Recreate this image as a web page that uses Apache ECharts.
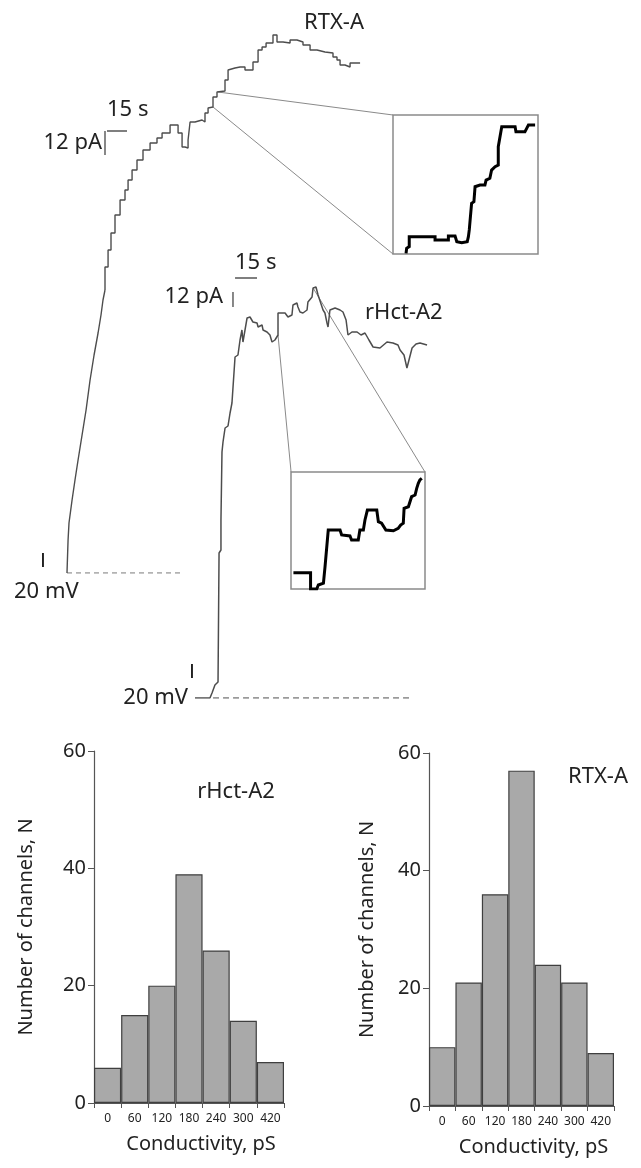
<!DOCTYPE html>
<html>
<head>
<meta charset="utf-8">
<script src="https://cdn.jsdelivr.net/npm/echarts@6.0.0/dist/echarts.min.js"></script>
<style>
  html, body { margin: 0; padding: 0; background: #ffffff; }
  #fig { width: 641px; height: 1168px; }
</style>
</head>
<body>
<div id="fig"></div>
<script>
// ---- Current traces: [time, s ; current, pA] ----
const rtxTrace = [
  [0,0],[0.8,16.5],[1.5,25],[3.8,36.5],[6,46.5],[8.3,56.5],[11.3,69],[14.3,81.5],
  [17.3,96.5],[20.3,109],[23.3,120],[25.5,129],[27,136.5],[28.5,141.5],[30.8,153],
  [33,161.5],[36,170],[39.8,179],[43.5,186.5],[45.8,191.5],[48.8,196.5],[52.5,201.5],
  [57,206.5],[62.3,211.5],[67.5,215],[71.3,217.5],[77.3,220],[78.8,224],[83.3,224],
  [86.3,220],[88.5,213],[90.8,212.5],[92.3,216.5],[96,225.5],[101.3,226.5],[103.5,225.5],
  [105.8,230],[107.3,232.5],[109.5,233],[112.5,238],[113.3,240.5],[118.5,241],
  [120.8,246.5],[122.3,251.5],[126,252.5],[129.8,253],[133.5,253],[139.5,251.5],
  [143.3,255.5],[146.3,261.5],[149.3,263],[154.5,265],[157.5,269],[162,265.5],
  [167.3,265],[172.5,266.5],[177,265.5],[182.3,264],[187.5,261.5],[193.5,260.5],
  [199.5,260],[202.5,258],[204.8,256.5],[208.5,254],[212.3,253],[215.3,255],[219.8,255]
];
const rtxRiseEnd = 13;   // index where the fast rise gives way to discrete steps
const rtxBaseline = [[0,0],[84.8,0]];
const rtxZoomFrom = [[113.3,240.5],[109.5,233]];   // trace points expanded in the inset
const rtxZoomTo = [[244.5,229],[244.5,159.5]];      // inset corners (trace units)

// expanded fragment of the RTX-A trace
const rtxInset = [
  [0.45,0.05],[0.47,0.41],[0.56,0.53],[0.56,1.25],[1.45,1.25],[1.45,1.0],[1.91,1.0],
  [1.91,1.29],[2.14,1.29],[2.2,0.88],[2.37,0.81],[2.56,0.88],[2.6,1.25],[2.63,1.73],
  [2.66,2.45],[2.71,2.57],[2.71,3.65],[2.79,3.76],[2.83,4.84],[3.0,4.96],[3.17,4.96],
  [3.21,5.32],[3.34,5.45],[3.4,6.04],[3.52,6.28],[3.63,6.4],[3.63,7.72],[3.69,7.84],
  [3.75,9.16],[4.21,9.16],[4.24,8.8],[4.55,8.8],[4.61,9.04],[4.67,9.28],[4.9,9.28]
];

const rhctTrace = [
  [0,0],[10.2,0],[11.6,4],[13.6,10.4],[15.7,12.8],[16.4,14.4],[16.4,116],[17.7,118.4],
  [17.7,142.4],[18.4,196.8],[19.1,204.8],[20.5,216],[22.5,217.6],[23.9,228],[25.2,236],
  [27.3,272.8],[29.3,274.4],[30.7,286.4],[32,294.4],[32.7,284.8],[34.1,294.4],[35.5,304],
  [37.5,304.8],[39.5,300.8],[42.3,300],[43,296.8],[45.7,298.4],[46.4,294.4],[49.1,292.8],
  [51.1,290.4],[52.5,284.8],[54.5,286.4],[56.6,290.4],[56.6,308],[61.4,308],[63.4,304.8],
  [66.1,306.4],[66.8,314.4],[69.5,316],[70.2,312.8],[71.6,308.8],[73.6,308],[76.4,310.4],
  [77,316.8],[79.8,320.8],[80.5,328],[82.5,328.8],[83.9,322.4],[85.2,320.8],[87.3,310.4],
  [88.6,308],[90,300],[90.7,296.8],[92,310.4],[95.5,312],[98.9,310.4],[100.9,308.8],
  [103,302.4],[104.3,290.4],[107,292.8],[110.5,292.8],[113.2,290.4],[115.9,292],
  [118.6,286.4],[121.4,280.8],[126.1,280],[130.9,284.8],[135,284],[138.4,282.4],
  [139.8,278.4],[142.5,274.4],[144.5,264],[145.9,270.4],[148,280],[150.7,283.2],
  [153.4,284],[158.2,282.4]
];
const rhctBaseline = [[12.3,0],[148.6,0]];
const rhctZoomFrom = [[56.6,290.4],[80.5,328]];
const rhctZoomTo = [[65.5,180.8],[156.8,180.8]];

// expanded fragment of the rHct-A2 trace
const rhctInset = [
  [0.09,1.39],[0.73,1.39],[0.73,0],[0.96,0],[1.02,0.34],[1.21,0.49],[1.27,1.91],
  [1.33,2.05],[1.39,5.04],[1.83,5.04],[1.89,4.62],[2.2,4.53],[2.26,4.19],[2.51,4.19],
  [2.57,5.04],[2.7,5.04],[2.76,5.9],[2.85,6.75],[3.2,6.75],[3.26,5.75],[3.38,5.62],
  [3.54,5.04],[3.82,4.98],[4.0,5.19],[4.09,5.47],[4.19,5.62],[4.22,6.9],[4.38,7.03],
  [4.5,7.89],[4.63,8.03],[4.69,8.6],[4.75,9.03],[4.81,9.32],[4.88,9.46]
];

// scale bars: 15 s, 12 pA
const barTime = 15;
const barCurrent = 12;
const rtxBarCorner = [28.5, 221];
const rhctBarTime = [27.3, 336];
const rhctBarCurrent = [25.9, 324.8];

// ---- Conductance histograms ----
const conductBins = ['0', '60', '120', '180', '240', '300', '420'];
const rhctCounts = [6, 15, 20, 39, 26, 14, 7];
const rtxCounts = [10, 21, 36, 57, 24, 21, 9];
const countTicks = { min: 0, max: 60, interval: 20 };

const FONT = '"Noto Sans", "DejaVu Sans", sans-serif';
const INK = '#222222';
const TRACE = '#4d4d4d';

function hidden(gridIndex, min, max) {
  return { type: 'value', gridIndex, min, max, show: false };
}
function line(xi, data, color, width, extra) {
  return Object.assign({
    type: 'line', xAxisIndex: xi, yAxisIndex: xi, data,
    showSymbol: false, symbol: 'none', silent: true, animation: false,
    lineStyle: { color, width }
  }, extra || {});
}
function hxAxis(gridIndex) {
  return {
    type: 'category', gridIndex, data: conductBins,
    axisLine: { lineStyle: { color: '#555', width: 1.2 } },
    axisTick: { show: true, length: 5, lineStyle: { color: '#555' } },
    axisLabel: { fontSize: 12, color: INK, margin: 10, fontFamily: FONT, interval: 0 },
    name: 'Conductivity, pS', nameLocation: 'middle', nameGap: 31,
    nameTextStyle: { fontSize: 20, color: INK, fontFamily: FONT, padding: [0, 0, 0, 24] }
  };
}
function hyAxis(gridIndex, gap) {
  return {
    type: 'value', gridIndex, min: countTicks.min, max: countTicks.max,
    interval: countTicks.interval,
    axisLine: { show: true, lineStyle: { color: '#555', width: 1.2 } },
    axisTick: { show: true, length: 6, lineStyle: { color: '#555' } },
    axisLabel: { fontSize: 20, color: INK, margin: 8, fontFamily: FONT },
    splitLine: { show: false },
    name: 'Number of channels, N', nameLocation: 'middle', nameGap: gap,
    nameTextStyle: { fontSize: 20, color: INK, fontFamily: FONT }
  };
}
function bars(idx, data) {
  return {
    type: 'bar', xAxisIndex: idx, yAxisIndex: idx, data,
    barWidth: '100%', silent: true, animation: false,
    itemStyle: { color: '#a9a9a9', borderColor: '#3f3f3f', borderWidth: 1.2 }
  };
}
function txt(x, y, text, align, size, family) {
  return {
    type: 'text', x, y, silent: true,
    style: {
      text, fill: INK, font: (size || 22) + 'px ' + (family || FONT),
      align, textAlign: align, verticalAlign: 'middle', textVerticalAlign: 'middle'
    }
  };
}

const chart = echarts.init(document.getElementById('fig'), null, { renderer: 'canvas' });

chart.setOption({
  backgroundColor: '#ffffff',
  animation: false,
  grid: [
    { left: 67, top: 13, width: 480, height: 560 },                       // RTX-A trace
    { left: 393, top: 115, width: 145, height: 139, show: true,
      borderColor: '#8a8a8a', borderWidth: 1.5, backgroundColor: 'transparent' }, // RTX-A inset
    { left: 195, top: 248, width: 330, height: 450 },                     // rHct-A2 trace
    { left: 291, top: 472, width: 134, height: 117, show: true,
      borderColor: '#8a8a8a', borderWidth: 1.5, backgroundColor: 'transparent' }, // rHct-A2 inset
    { left: 94, top: 751, width: 190, height: 352 },                      // histogram rHct-A2
    { left: 429, top: 753, width: 185, height: 353 }                      // histogram RTX-A
  ],
  xAxis: [
    hidden(0, 0, 360), hidden(1, 0, 5), hidden(2, 0, 225), hidden(3, 0, 5),
    hxAxis(4), hxAxis(5)
  ],
  yAxis: [
    hidden(0, 0, 280), hidden(1, 0, 10), hidden(2, 0, 360), hidden(3, 0, 10),
    hyAxis(4, 58), hyAxis(5, 52)
  ],
  series: [
    // RTX-A recording
    line(0, rtxBaseline, '#9a9a9a', 1.3, { lineStyle: { color: '#9a9a9a', width: 1.3, type: [5, 4] } }),
    line(0, [rtxZoomFrom[0], rtxZoomTo[0]], '#8a8a8a', 1),
    line(0, [rtxZoomFrom[1], rtxZoomTo[1]], '#8a8a8a', 1),
    line(0, rtxTrace.slice(0, rtxRiseEnd + 1), TRACE, 1.4),
    line(0, rtxTrace.slice(rtxRiseEnd), TRACE, 1.4, { step: 'start' }),
    line(0, [[rtxBarCorner[0] + 1.5, rtxBarCorner[1]], [rtxBarCorner[0] + 1.5 + barTime, rtxBarCorner[1]]], '#555', 1.4),
    line(0, [rtxBarCorner, [rtxBarCorner[0], rtxBarCorner[1] - barCurrent]], '#555', 1.4),
    line(1, rtxInset, '#000', 3, { lineStyle: { color: '#000', width: 3, join: 'miter' } }),

    // rHct-A2 recording
    line(2, rhctBaseline, '#7a7a7a', 1.5, { lineStyle: { color: '#7a7a7a', width: 1.6, type: [6, 4] } }),
    line(2, [rhctZoomFrom[0], rhctZoomTo[0]], '#8a8a8a', 1),
    line(2, [rhctZoomFrom[1], rhctZoomTo[1]], '#8a8a8a', 1),
    line(2, rhctTrace, TRACE, 1.5),
    line(2, [rhctBarTime, [rhctBarTime[0] + barTime, rhctBarTime[1]]], '#555', 1.4),
    line(2, [rhctBarCurrent, [rhctBarCurrent[0], rhctBarCurrent[1] - barCurrent]], '#555', 1.4),
    line(3, rhctInset, '#000', 3, { lineStyle: { color: '#000', width: 3, join: 'miter' } }),

    // histograms
    bars(4, rhctCounts),
    bars(5, rtxCounts)
  ],
  graphic: [
    txt(334, 23, 'RTX-A', 'center'),
    txt(107, 110, '15 s', 'left'),
    txt(102, 143, '12 pA', 'right'),
    txt(43, 562, 'I', 'center', 20, '"DejaVu Sans", sans-serif'),
    txt(14, 592, '20 mV', 'left'),
    txt(235, 263, '15 s', 'left'),
    txt(223, 297, '12 pA', 'right'),
    txt(365, 313, 'rHct-A2', 'left'),
    txt(192, 673, 'I', 'center', 20, '"DejaVu Sans", sans-serif'),
    txt(188, 698, '20 mV', 'right'),
    txt(236, 792, 'rHct-A2', 'center'),
    txt(598, 777, 'RTX-A', 'center')
  ]
});
</script>
</body>
</html>
